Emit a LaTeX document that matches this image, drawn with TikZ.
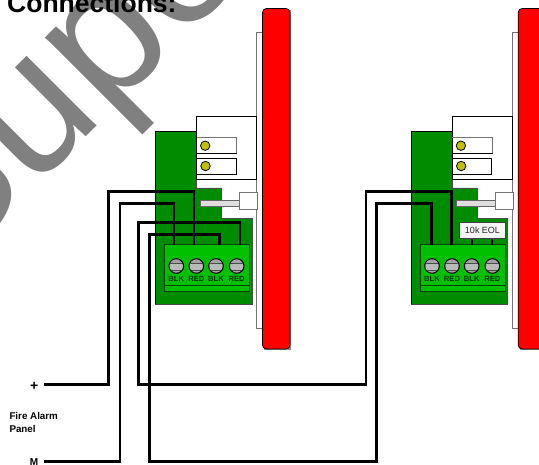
\documentclass[tikz,border=0pt]{standalone}
\usepackage{fontspec}
\setmainfont{Liberation Sans}
\definecolor{pcb}{HTML}{008C00}
\definecolor{blockg}{HTML}{00C000}
\definecolor{led}{HTML}{C0C000}
\definecolor{wm}{HTML}{808080}
\definecolor{screwg}{HTML}{C0C0C0}
\tikzset{
  wire/.style={draw=black,line width=2.7pt,line join=miter},
  thin box/.style={draw=black,line width=0.8pt,fill=white},
  shade box/.style={draw=black!55,line width=0.9pt,fill=white},
  lbl/.style={inner sep=0pt,font=\bfseries\fontsize{7.6}{8}\selectfont,text=black!80!green},
  caption/.style={inner sep=0pt,font=\bfseries\fontsize{9.8}{12}\selectfont,anchor=west}
}
\newcommand{\alarmunit}[1]{%
\begin{scope}[shift={(#1,0)}]
  % back plate
  \draw[shade box] (262.5,32) -- (256.5,32) -- (256.5,328.5) -- (262.5,328.5);
  % red panel
  \fill[black!45] (264,10) rectangle (291,350);
  \draw[fill=red,draw=black,line width=0.8pt,rounded corners=4pt] (262.5,8.5) rectangle (290,349);
  % pcb
  \draw[fill=pcb,draw=black!70,line width=0.8pt] (155.5,131.5) -- (196.5,131.5) -- (196.5,188) -- (221.5,188) -- (221.5,218.5) -- (252,218.5) -- (252,304) -- (155.5,304) -- cycle;
  \draw[black,line width=0.9pt] (155.5,304) -- (155.5,131.5) -- (196.5,131.5) -- (196.5,180);
  % white housing
  \draw[thin box] (196.5,116.5) rectangle (256.5,179.5);
  \draw[thin box] (196.5,137) rectangle (236.5,153.5);
  \draw[black!55,line width=0.9pt] (196.5,137) -- (236.5,137) -- (236.5,153.5);
  \draw[thin box] (196.5,158) rectangle (236,174.5);
  \draw[fill=led,draw=black,line width=0.8pt] (205.2,145.7) circle (4.7);
  \draw[fill=led,draw=black,line width=0.8pt] (205.5,166) circle (4.7);
  % plunger
  \draw[draw=black!60,fill=black!13,line width=0.9pt] (200.5,200.5) rectangle (240,206);
  \draw[shade box] (239.5,192.5) rectangle (257.5,209.5);
  % terminal block
  \draw[fill=blockg,draw=black!75!green,line width=0.8pt] (164.7,244.3) rectangle (249.3,291);
  \draw[black!75!green,line width=0.8pt] (164.7,285) -- (249.3,285);
  \foreach \x/\t in {176.3/BLK,196.3/RED,216/BLK,236.7/RED}{
    \begin{scope}
      \clip (\x,266) circle (7.3);
      \fill[screwg!85!black] (\x-8,258) rectangle (\x+8,274);
      \fill[screwg!110!white] (\x-8,263.2) rectangle (\x+8,270.2);
      \draw[black!70,line width=0.7pt] (\x-8,263.2) -- (\x+8,263.2);
      \draw[black!70,line width=0.7pt] (\x-8,270.2) -- (\x+8,270.2);
    \end{scope}
    \draw[black,line width=1pt] (\x,266) circle (7.3);
    \node[lbl] at (\x,279.2) {\t};
  }
\end{scope}}
\begin{document}
\begin{tikzpicture}[x=1pt,y=-1pt]
\useasboundingbox (0,0) rectangle (539,465);
\clip (0,0) rectangle (539,465);
\fill[white] (0,0) rectangle (539,465);
% watermark
\node[anchor=base west,inner sep=0pt,rotate=45,text=wm,font=\fontsize{187}{187}\selectfont] (mark) at (-55.5,278.6) {Supe};
% title
\node[anchor=base west,inner sep=0pt,font=\bfseries\fontsize{26.5}{28}\selectfont] (title) at (7,13) {Connections:};
% units
\alarmunit{0}
\alarmunit{255.7}
% resistor
\coordinate (rleg1) at (471.7,245.5);
\coordinate (rleg2) at (492.3,245.5);
\node[draw=black!75,line width=0.9pt,fill=black!4,minimum width=46.4pt,minimum height=15.6pt,inner sep=0pt,font=\fontsize{9}{9}\selectfont,text=black!85] (eol) at (482.5,230.5) {10k EOL};
\draw[line width=2pt] (rleg1) -- (rleg1 |- eol.south);
\draw[line width=2pt] (rleg2) -- (rleg2 |- eol.south);
% terminal points
\coordinate (a1) at (174,245.5);
\coordinate (a2) at (194,245.5);
\coordinate (a3) at (219.3,245.5);
\coordinate (a4) at (240,245.5);
\coordinate (b1) at (431.3,245.5);
\coordinate (b2) at (451.7,245.5);
% free ends
\coordinate (plusend) at (44,384.3);
\coordinate (mend) at (44,461.7);
% bends
\coordinate (w1) at (108.7,191.3);
\coordinate (w2) at (120,203.3);
\coordinate (w3a) at (366,191.3);
\coordinate (w3b) at (138.3,384.3);
\coordinate (w3c) at (138.3,222.7);
\coordinate (w4a) at (376.7,203.3);
\coordinate (w4b) at (149.3,461.7);
\coordinate (w4c) at (149.3,234.5);
\draw[wire] (plusend) -| (w1) -| (a2);
\draw[wire] (mend) -| (w2) -| (a1);
\draw[wire] (b2) |- (w3a) |- (w3b) -- (w3c) -| (a4);
\draw[wire] (b1) |- (w4a) |- (w4b) -- (w4c) -| (a3);
% labels
\node[inner sep=0pt,font=\bfseries\fontsize{14}{14}\selectfont] (plus) at (34.3,386.3) {+};
\node[caption] (fire) at (9.3,416) {Fire Alarm};
\node[caption] (panel) at (9.3,429) {Panel};
\node[inner sep=0pt,font=\bfseries\fontsize{10}{10}\selectfont] (m) at (34,461.7) {M};
\end{tikzpicture}
\end{document}
